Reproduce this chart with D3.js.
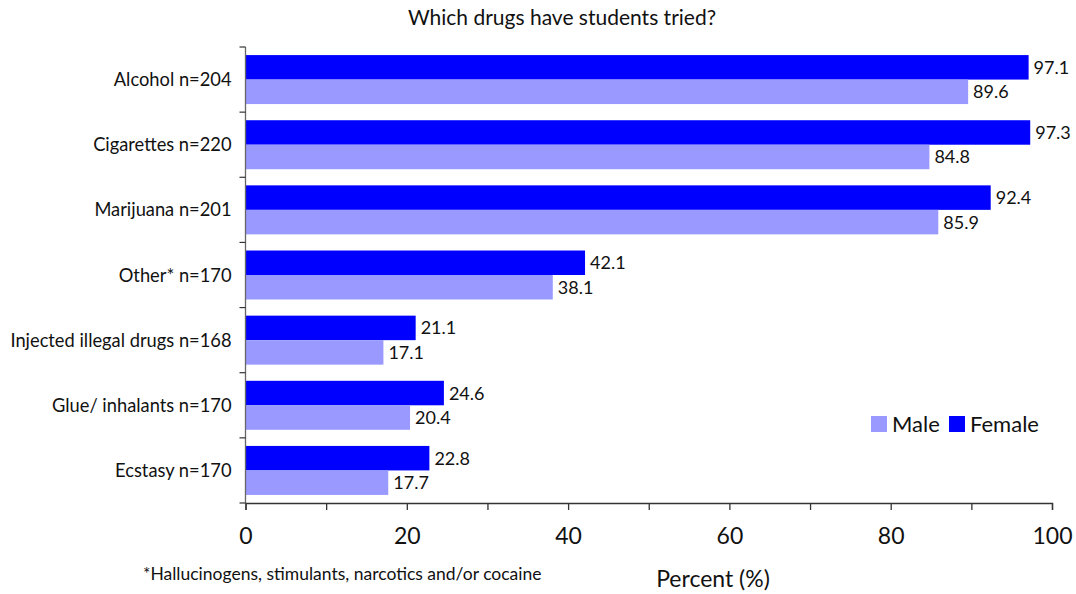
<!DOCTYPE html>
<html><head><meta charset="utf-8">
<script src="https://cdn.jsdelivr.net/npm/d3@7"></script>
<style>body{margin:0;background:#fff}svg{display:block;font-family:Lato,"Open Sans",sans-serif}</style>
</head><body><svg id="c" width="1076" height="594"></svg>
<script>
const categories = ["Alcohol n=204","Cigarettes n=220","Marijuana n=201","Other* n=170","Injected illegal drugs n=168","Glue/ inhalants n=170","Ecstasy n=170"];
const series = ["Female","Male"];
const female = [97.1,97.3,92.4,42.1,21.1,24.6,22.8];
const male = [89.6,84.8,85.9,38.1,17.1,20.4,17.7];
const xTicks = [0,20,40,60,80,100];
const colors = {Female:"#0000FF", Male:"#9999FF"};

const svg = d3.select("#c");
const x = d3.scaleLinear().domain([0,100]).range([245.5,1052]);
const y = d3.scaleBand().domain(categories).range([47,503]).padding(0);
const yi = d3.scaleBand().domain(series).range([0,y.bandwidth()]).paddingInner(0).paddingOuter(0.33);

svg.append("text").attr("x",562).attr("y",25).attr("text-anchor","middle")
  .attr("font-size",21).attr("fill","#111").text("Which drugs have students tried?");

const vals = {Female:female, Male:male};
categories.forEach((c,i)=>{
  series.forEach(s=>{
    const v = vals[s][i];
    const y0 = y(c)+yi(s);
    svg.append("rect").attr("x",x(0)).attr("y",y0).attr("width",x(v)-x(0)).attr("height",yi.bandwidth()).attr("fill",colors[s]);
    svg.append("text").attr("x",x(v)+5).attr("y",y0+yi.bandwidth()/2).attr("dy","0.36em")
      .attr("font-size",18).attr("fill","#111").text(v.toFixed(1));
  });
});

// y axis
const gy = svg.append("g").attr("transform",`translate(${x(0)},0)`);
gy.append("line").attr("x1",0).attr("x2",0).attr("y1",47).attr("y2",503).attr("stroke","#666").attr("stroke-width",1.3);
const bounds = categories.map(c=>y(c)).concat([y.range()[1]]);
gy.selectAll("line.t").data(bounds).join("line").attr("class","t")
  .attr("x1",-6).attr("x2",0).attr("y1",d=>d).attr("y2",d=>d).attr("stroke","#333").attr("stroke-width",1.2);
gy.selectAll("text").data(categories).join("text")
  .attr("x",-14).attr("y",d=>y(d)+y.bandwidth()/2).attr("dy","0.36em")
  .attr("text-anchor","end").attr("font-size",18.3).attr("fill","#111").text(d=>d);

// x axis
const gx = svg.append("g").attr("transform","translate(0,503)");
const xAxis = d3.axisBottom(x).tickValues(d3.range(0,101,10)).tickSize(7).tickFormat(d=>xTicks.includes(d)?d:"");
gx.call(xAxis);
gx.select(".domain").attr("stroke","#333").attr("stroke-width",1.3);
gx.selectAll(".tick line").attr("stroke","#333").attr("stroke-width",1.3);
gx.selectAll(".tick text").attr("font-size",23).attr("fill","#111").attr("y",25).attr("font-family","Lato,'Open Sans',sans-serif");

svg.append("text").attr("x",713).attr("y",587).attr("text-anchor","middle").attr("font-size",23).attr("fill","#111").text("Percent (%)");
svg.append("text").attr("x",143).attr("y",580).attr("font-size",17.5).attr("fill","#111").text("*Hallucinogens, stimulants, narcotics and/or cocaine");

// legend
const leg = svg.append("g");
const legItems = [{s:"Male",x:871},{s:"Female",x:949}];
legItems.forEach(d=>{
  leg.append("rect").attr("x",d.x).attr("y",416).attr("width",16).attr("height",16).attr("fill",colors[d.s]);
  leg.append("text").attr("x",d.x+21).attr("y",432).attr("font-size",22).attr("fill","#111").text(d.s);
});
</script></body></html>
